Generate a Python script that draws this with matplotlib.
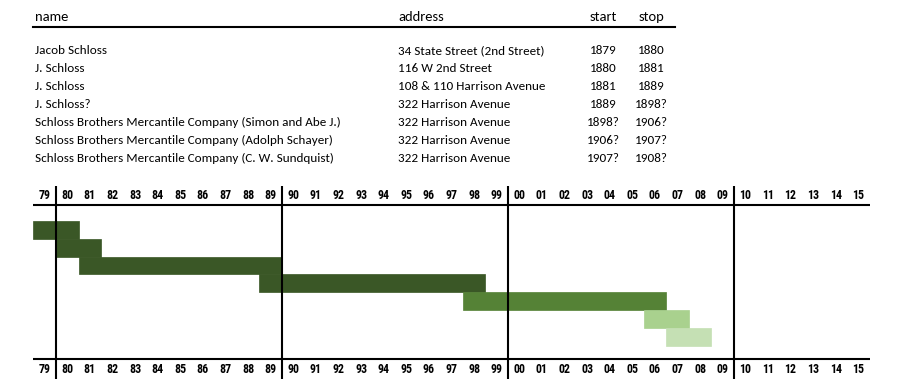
import matplotlib
matplotlib.use('Agg')
import matplotlib.pyplot as plt
from matplotlib import font_manager

# table rows
names = ['Jacob Schloss', 'J. Schloss', 'J. Schloss', 'J. Schloss?',
         'Schloss Brothers Mercantile Company (Simon and Abe J.)',
         'Schloss Brothers Mercantile Company (Adolph Schayer)',
         'Schloss Brothers Mercantile Company (C. W. Sundquist)']
addresses = ['34 State Street (2nd Street)', '116 W 2nd Street', '108 & 110 Harrison Avenue',
             '322 Harrison Avenue', '322 Harrison Avenue', '322 Harrison Avenue',
             '322 Harrison Avenue']
start_labels = ['1879', '1880', '1881', '1889', '1898?', '1906?', '1907?']
stop_labels = ['1880', '1881', '1889', '1898?', '1906?', '1907?', '1908?']

# numeric years for the bars (inclusive of stop year)
starts = [1879, 1880, 1881, 1889, 1898, 1906, 1907]
stops = [1880, 1881, 1889, 1898, 1906, 1907, 1908]
colors = ['#3a5726', '#3a5726', '#3a5726', '#3a5726', '#558236', '#a9d18e', '#c5e0b4']

years = list(range(1879, 1916))
decades = [1880, 1890, 1900, 1910]

installed = set(f.name for f in font_manager.fontManager.ttflist)


def pick(cands):
    for c in cands:
        if c in installed:
            return c
    return 'DejaVu Sans'


txt_font = pick(['Carlito', 'Calibri', 'Lato', 'Liberation Sans'])
yr_font = pick(['Roboto Condensed', 'Liberation Sans Narrow', 'DejaVu Sans Condensed', 'Roboto'])

W, H = 900, 390
fig = plt.figure(figsize=(9, 3.9), dpi=100)
renderer = fig.canvas.get_renderer()


def fit_size(s, target_px, family, weight='normal'):
    t = fig.text(0, 0, s, fontsize=10, family=family, fontweight=weight)
    w = t.get_window_extent(renderer).width
    t.remove()
    return 10 * target_px / w


def fx(px):
    return px / W


def fy(py):
    return 1 - py / H


# ---- table ----
hs = fit_size('address', 46, txt_font)
rs = fit_size(names[4], 305, txt_font)

fig.text(fx(35), fy(17), 'name', fontsize=hs, family=txt_font, va='center', ha='left')
fig.text(fx(398), fy(17), 'address', fontsize=hs, family=txt_font, va='center', ha='left')
fig.text(fx(603), fy(17), 'start', fontsize=hs, family=txt_font, va='center', ha='center')
fig.text(fx(651), fy(17), 'stop', fontsize=hs, family=txt_font, va='center', ha='center')
fig.add_artist(plt.Line2D([fx(33), fx(675)], [fy(26.5), fy(26.5)], color='black', lw=1.5))

row0, rstep = 51, 17.85
for i in range(len(names)):
    y = fy(row0 + i * rstep)
    fig.text(fx(35), y, names[i], fontsize=rs, family=txt_font, va='center', ha='left')
    fig.text(fx(398), y, addresses[i], fontsize=rs, family=txt_font, va='center', ha='left')
    fig.text(fx(603), y, start_labels[i], fontsize=rs, family=txt_font, va='center', ha='center')
    fig.text(fx(651), y, stop_labels[i], fontsize=rs, family=txt_font, va='center', ha='center')

# ---- gantt ----
ax = fig.add_axes([fx(33.4), fy(379), fx(869.6) - fx(33.4), fy(186) - fy(379)])
ax.set_axis_off()
ax.set_xlim(1879, 1916)
ax.set_ylim(8.86, -1.96)

rows = list(range(len(starts)))
widths = [b - a + 1 for a, b in zip(starts, stops)]
ax.barh(rows, widths, left=starts, height=1.0, align='edge', color=colors,
        edgecolor=colors, linewidth=0.5, zorder=2)

ax.axhline(-0.9, color='black', lw=1.5, zorder=3)
ax.axhline(7.74, color='black', lw=1.5, zorder=3)
for d in decades:
    ax.axvline(d, color='black', lw=1.5, zorder=3)

ys = fit_size('80', 12, yr_font, 'bold')
for yr in years:
    lab = '%02d' % (yr % 100)
    ax.text(yr + 0.5, -1.42, lab, ha='center', va='center', fontsize=ys,
            family=yr_font, fontweight='bold')
    ax.text(yr + 0.5, 8.33, lab, ha='center', va='center', fontsize=ys,
            family=yr_font, fontweight='bold')

fig.savefig('out.png', dpi=100)
